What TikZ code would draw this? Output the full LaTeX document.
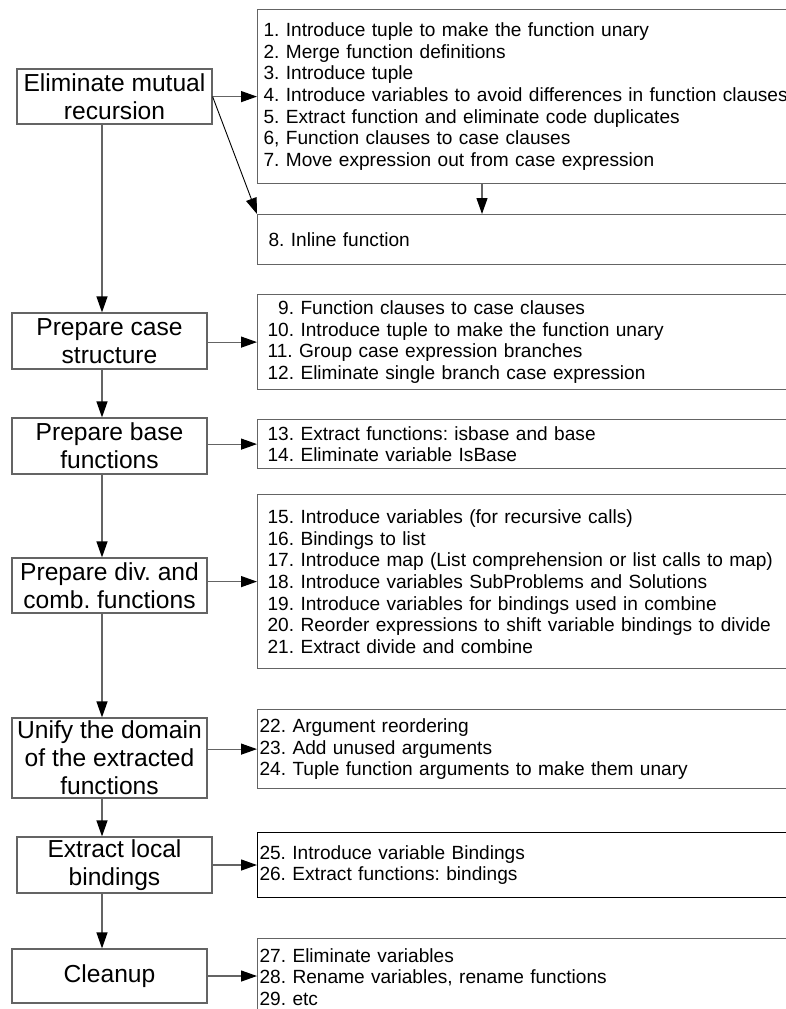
\documentclass[tikz,border=0pt]{standalone}
\usepackage{fontspec}
\setmainfont{Liberation Sans}
\usetikzlibrary{arrows.meta,positioning}
\definecolor{linegray}{RGB}{100,100,100}
\frenchspacing
\tikzset{
	stage/.style={draw=linegray, line width=1.2pt, minimum width=195pt,
		minimum height=56pt, align=center, inner sep=0pt,
		font=\fontsize{24.6}{28}\selectfont},
	steps/.style={draw=linegray, line width=1.2pt, anchor=north west,
		text width=540pt, align=left, inner xsep=10pt, inner ysep=0pt,
		font=\fontsize{19.1}{21.7}\selectfont},
	flow/.style={draw=linegray, line width=1.2pt,
		-{Triangle[length=16pt,width=11pt,color=black]}},
}
\begin{document}
\begin{tikzpicture}[x=1pt,y=-1pt]
	\useasboundingbox (0,0) rectangle (786,1009);
	\clip (0,0) rectangle (786,1009);
	
	%stages
	\node[stage, minimum height=55pt] (elim) at (114.5,96.5) {Eliminate mutual\\recursion};
	\node[stage] (case) at (109.5,341) {Prepare case\\structure};
	\node[stage] (base) at (109.5,446) {Prepare base\\functions};
	\node[stage, minimum height=55pt] (div) at (109.5,585.5) {Prepare div. and\\comb. functions};
	\node[stage, minimum height=80pt] (unify) at (109.5,758) {Unify the domain\\of the extracted\\functions};
	\node[stage] (local) at (114.5,865) {Extract local\\bindings};
	\node[stage, minimum height=54pt] (cleanup) at (109.5,976) {Cleanup};
	
	%refactoring steps
	\node[steps, inner xsep=6pt, minimum height=174pt] (elimsteps) at (257,9) {%
		1. Introduce tuple to make the function unary\\
		2. Merge function definitions\\
		3. Introduce tuple\\
		4. Introduce variables to avoid differences in function clauses\\
		5. Extract function and eliminate code duplicates\\
		6, Function clauses to case clauses\\
		7. Move expression out from case expression};
	\node[steps, inner xsep=11pt, minimum height=50pt] (inline) at (257,214) {8. Inline function};
	\node[steps, minimum height=95pt] (casesteps) at (257,294) {%
		\hphantom{1}9. Function clauses to case clauses\\
		10. Introduce tuple to make the function unary\\
		11. Group case expression branches\\
		12. Eliminate single branch case expression};
	\node[steps, minimum height=49pt] (basesteps) at (257,419) {%
		13. Extract functions: isbase and base\\
		14. Eliminate variable IsBase};
	\node[steps, minimum height=174pt] (divsteps) at (257,494) {%
		15. Introduce variables (for recursive calls)\\
		16. Bindings to list\\
		17. Introduce map (List comprehension or list calls to map)\\
		18. Introduce variables SubProblems and Solutions\\
		19. Introduce variables for bindings used in combine\\
		20. Reorder expressions to shift variable bindings to divide\\
		21. Extract divide and combine};
	\node[steps, inner xsep=2pt, minimum height=79pt] (unifysteps) at (257,709) {%
		22. Argument reordering\\
		23. Add unused arguments\\
		24. Tuple function arguments to make them unary};
	\node[steps, draw=black, line width=1pt, inner xsep=2pt, minimum height=65pt] (localsteps) at (257,832) {%
		25. Introduce variable Bindings\\
		26. Extract functions: bindings};
	\node[steps, inner xsep=2pt, minimum height=77pt] (cleanupsteps) at (257,938) {%
		27. Eliminate variables\\
		28. Rename variables, rename functions\\
		29. etc};
	
	%main line
	\coordinate (spine) at (102,0);
	\draw[flow] (elim.south -| spine) -- (case.north -| spine);
	\draw[flow] (case.south -| spine) -- (base.north -| spine);
	\draw[flow] (base.south -| spine) -- (div.north -| spine);
	\draw[flow] (div.south -| spine) -- (unify.north -| spine);
	\draw[flow] (unify.south -| spine) -- (local.north -| spine);
	\draw[flow] (local.south -| spine) -- (cleanup.north -| spine);
	
	\draw[flow] (elim.east |- elimsteps.west) -- (elimsteps.west);
	\draw[black, line width=0.9pt, -{Triangle[length=16pt,width=11pt]}]
		(elim.east |- elimsteps.west) -- (inline.north west);
	\coordinate (drop) at (482,0);
	\draw[flow] (elimsteps.south -| drop) -- (inline.north -| drop);
	
	\draw[flow] (case.east |- casesteps.west) -- (casesteps.west);
	\draw[flow] (base.east |- basesteps.west) -- (basesteps.west);
	\draw[flow] (div.east |- divsteps.west) -- (divsteps.west);
	\draw[flow] (unify.east |- unifysteps.west) -- (unifysteps.west);
	\draw[flow] (local.east |- localsteps.west) -- (localsteps.west);
	\draw[flow] (cleanup.east) -- (cleanup.east -| cleanupsteps.west);
\end{tikzpicture}
\end{document}
